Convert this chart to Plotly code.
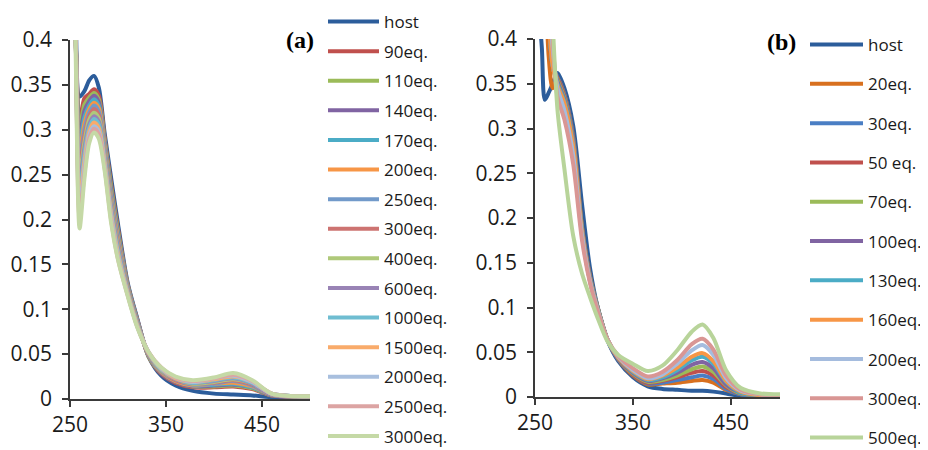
import plotly.graph_objects as go

# ---------------- Panel (a) data ----------------
WL_A = [250, 253, 256, 260, 265, 270, 275, 280, 286, 293, 300, 310, 320, 332, 345, 360, 378, 400, 420, 440, 460, 500]
LABELS_A = ["host", "90eq.", "110eq.", "140eq.", "170eq.", "200eq.", "250eq.", "300eq.", "400eq.",
            "600eq.", "1000eq.", "1500eq.", "2000eq.", "2500eq.", "3000eq."]
COLORS_A = ["#2C5D9B", "#C0504D", "#9BBB59", "#8064A2", "#4BACC6", "#F79646", "#729ACA", "#CD7371",
            "#AFC97A", "#9983B5", "#6FBDD1", "#F9AB6B", "#A8BFDE", "#DCA4A3", "#C5D9A6"]

A_HOST = [0.95, 0.6, 0.43, 0.337, 0.343, 0.355, 0.360, 0.347, 0.297, 0.245, 0.195, 0.130, 0.090, 0.047, 0.026, 0.015, 0.009, 0.006, 0.005, 0.004, 0.002, 0.001]
A_90 = [0.95, 0.6, 0.40, 0.310, 0.335, 0.340, 0.345, 0.338, 0.292, 0.238, 0.190, 0.128, 0.089, 0.047, 0.028, 0.018, 0.013, 0.013, 0.014, 0.011, 0.004, 0.003]
A_110 = [0.95, 0.6, 0.40, 0.301, 0.328, 0.336, 0.341, 0.334, 0.289, 0.235, 0.187, 0.127, 0.088, 0.047, 0.029, 0.019, 0.014, 0.014, 0.015, 0.012, 0.004, 0.003]
A_140 = [0.95, 0.6, 0.40, 0.292, 0.321, 0.332, 0.338, 0.331, 0.286, 0.231, 0.184, 0.126, 0.088, 0.048, 0.029, 0.019, 0.014, 0.015, 0.016, 0.013, 0.004, 0.003]
A_170 = [0.95, 0.6, 0.40, 0.283, 0.314, 0.327, 0.334, 0.327, 0.284, 0.228, 0.182, 0.125, 0.087, 0.048, 0.030, 0.020, 0.015, 0.016, 0.017, 0.013, 0.005, 0.003]
A_200 = [0.95, 0.6, 0.40, 0.274, 0.307, 0.323, 0.330, 0.324, 0.281, 0.225, 0.179, 0.124, 0.086, 0.049, 0.030, 0.020, 0.015, 0.017, 0.018, 0.014, 0.005, 0.003]
A_250 = [0.95, 0.6, 0.40, 0.265, 0.300, 0.319, 0.327, 0.320, 0.278, 0.222, 0.176, 0.123, 0.086, 0.049, 0.031, 0.021, 0.016, 0.017, 0.020, 0.015, 0.005, 0.003]
A_300 = [0.95, 0.6, 0.40, 0.256, 0.293, 0.315, 0.323, 0.316, 0.275, 0.218, 0.173, 0.122, 0.085, 0.049, 0.032, 0.021, 0.017, 0.018, 0.021, 0.016, 0.005, 0.003]
A_400 = [0.95, 0.6, 0.40, 0.247, 0.286, 0.311, 0.319, 0.313, 0.272, 0.215, 0.170, 0.121, 0.084, 0.050, 0.032, 0.022, 0.017, 0.019, 0.022, 0.017, 0.005, 0.003]
A_600 = [0.95, 0.6, 0.40, 0.238, 0.279, 0.306, 0.315, 0.309, 0.270, 0.212, 0.168, 0.120, 0.083, 0.050, 0.033, 0.022, 0.018, 0.020, 0.023, 0.017, 0.005, 0.003]
A_1000 = [0.95, 0.6, 0.40, 0.229, 0.272, 0.302, 0.312, 0.306, 0.267, 0.208, 0.165, 0.119, 0.083, 0.051, 0.033, 0.023, 0.018, 0.021, 0.024, 0.018, 0.006, 0.003]
A_1500 = [0.95, 0.6, 0.40, 0.220, 0.265, 0.298, 0.308, 0.302, 0.264, 0.205, 0.162, 0.118, 0.082, 0.051, 0.034, 0.023, 0.019, 0.022, 0.025, 0.019, 0.006, 0.003]
A_2000 = [0.95, 0.6, 0.40, 0.211, 0.258, 0.294, 0.304, 0.298, 0.261, 0.202, 0.159, 0.117, 0.081, 0.052, 0.034, 0.024, 0.019, 0.023, 0.026, 0.019, 0.006, 0.003]
A_2500 = [0.95, 0.6, 0.40, 0.202, 0.251, 0.290, 0.301, 0.295, 0.258, 0.198, 0.156, 0.116, 0.081, 0.052, 0.035, 0.024, 0.020, 0.023, 0.027, 0.020, 0.006, 0.003]
A_3000 = [0.95, 0.6, 0.38, 0.190, 0.245, 0.285, 0.297, 0.290, 0.255, 0.195, 0.155, 0.115, 0.080, 0.052, 0.035, 0.025, 0.021, 0.024, 0.029, 0.021, 0.006, 0.003]
SERIES_A = [A_HOST, A_90, A_110, A_140, A_170, A_200, A_250, A_300, A_400, A_600,
            A_1000, A_1500, A_2000, A_2500, A_3000]

# ---------------- Panel (b) data ----------------
WL_B = [250, 253, 257, 260, 264, 268, 273, 280, 289, 298, 306, 314, 324, 335, 350, 365, 380, 395, 410, 421, 432, 445, 460, 480, 500]
LABELS_B = ["host", "20eq.", "30eq.", "50 eq.", "70eq.", "100eq.", "130eq.", "160eq.", "200eq.", "300eq.", "500eq."]
COLORS_B = ["#2C5D9B", "#D8701F", "#4A7EC4", "#C0504D", "#9BBB59", "#8064A2", "#4BACC6", "#F79646",
            "#A5BCDE", "#D99694", "#B8D49A"]

B_HOST = [0.6, 0.45, 0.39, 0.332, 0.34, 0.35, 0.362, 0.345, 0.303, 0.215, 0.145, 0.100, 0.063, 0.040, 0.022, 0.012, 0.009, 0.008, 0.007, 0.007, 0.006, 0.004, 0.001, 0.0, 0.0]
B_20 = [0.9, 0.7, 0.55, 0.48, 0.38, 0.345, 0.356, 0.338, 0.290, 0.190, 0.136, 0.100, 0.064, 0.042, 0.024, 0.014, 0.015, 0.016, 0.018, 0.019, 0.016, 0.008, 0.003, 0.001, 0.001]
B_30 = [0.9, 0.72, 0.58, 0.50, 0.42, 0.37, 0.357, 0.338, 0.289, 0.189, 0.135, 0.100, 0.064, 0.042, 0.025, 0.015, 0.016, 0.019, 0.022, 0.024, 0.020, 0.009, 0.003, 0.001, 0.001]
B_50 = [0.9, 0.72, 0.58, 0.50, 0.42, 0.37, 0.356, 0.336, 0.287, 0.188, 0.134, 0.099, 0.064, 0.043, 0.025, 0.016, 0.018, 0.022, 0.027, 0.029, 0.024, 0.011, 0.004, 0.002, 0.001]
B_70 = [0.9, 0.72, 0.58, 0.50, 0.42, 0.37, 0.354, 0.334, 0.285, 0.187, 0.133, 0.099, 0.064, 0.043, 0.026, 0.017, 0.019, 0.024, 0.031, 0.034, 0.028, 0.013, 0.004, 0.002, 0.001]
B_100 = [0.9, 0.72, 0.58, 0.50, 0.42, 0.37, 0.352, 0.332, 0.284, 0.186, 0.132, 0.098, 0.064, 0.043, 0.027, 0.018, 0.021, 0.027, 0.036, 0.039, 0.032, 0.014, 0.005, 0.002, 0.001]
B_130 = [0.9, 0.72, 0.58, 0.50, 0.42, 0.37, 0.350, 0.330, 0.282, 0.185, 0.131, 0.098, 0.064, 0.044, 0.028, 0.019, 0.022, 0.030, 0.041, 0.045, 0.037, 0.017, 0.005, 0.002, 0.002]
B_160 = [0.9, 0.72, 0.58, 0.50, 0.42, 0.37, 0.348, 0.328, 0.280, 0.184, 0.130, 0.097, 0.064, 0.044, 0.029, 0.020, 0.024, 0.033, 0.045, 0.049, 0.040, 0.018, 0.006, 0.002, 0.002]
B_200 = [0.9, 0.75, 0.62, 0.55, 0.46, 0.39, 0.345, 0.320, 0.270, 0.180, 0.130, 0.097, 0.064, 0.045, 0.030, 0.021, 0.025, 0.037, 0.052, 0.058, 0.047, 0.021, 0.007, 0.003, 0.002]
B_300 = [0.9, 0.75, 0.62, 0.55, 0.47, 0.40, 0.335, 0.310, 0.260, 0.175, 0.128, 0.096, 0.064, 0.046, 0.032, 0.023, 0.028, 0.041, 0.059, 0.065, 0.053, 0.024, 0.008, 0.003, 0.002]
B_500 = [0.95, 0.85, 0.72, 0.62, 0.52, 0.42, 0.32, 0.255, 0.180, 0.138, 0.112, 0.088, 0.062, 0.047, 0.037, 0.029, 0.035, 0.052, 0.073, 0.081, 0.066, 0.030, 0.010, 0.004, 0.003]
SERIES_B = [B_HOST, B_20, B_30, B_50, B_70, B_100, B_130, B_160, B_200, B_300, B_500]

X_TICKS = [250, 350, 450]
Y_TICKS = [0, 0.05, 0.1, 0.15, 0.2, 0.25, 0.3, 0.35, 0.4]
Y_TICK_TEXT = ["0", "0.05", "0.1", "0.15", "0.2", "0.25", "0.3", "0.35", "0.4"]

FONT = "Open Sans"
W, H = 928, 450
OFF = 8  # the page body adds an 8px offset; layout below is in reference pixels minus this


def px_x(v):
    return (v - OFF) / W


def px_y(v):
    return 1 - (v - OFF) / H


fig = go.Figure()

for i, (lab, col, ys) in enumerate(zip(LABELS_A, COLORS_A, SERIES_A)):
    fig.add_trace(go.Scatter(
        x=WL_A, y=ys, name=lab, mode="lines",
        line=dict(color=col, width=4, shape="spline", smoothing=0.8),
        xaxis="x", yaxis="y", legend="legend", legendgroup="a%d" % i,
    ))

for i, (lab, col, ys) in enumerate(zip(LABELS_B, COLORS_B, SERIES_B)):
    fig.add_trace(go.Scatter(
        x=WL_B, y=ys, name=lab, mode="lines",
        line=dict(color=col, width=4, shape="spline", smoothing=0.8),
        xaxis="x2", yaxis="y2", legend="legend2", legendgroup="b%d" % i,
    ))

axis_common = dict(
    showline=True, linecolor="#3a3a3a", linewidth=1.5, ticks="outside", ticklen=6,
    tickcolor="#3a3a3a", tickwidth=1.5, showgrid=False, zeroline=False,
    tickfont=dict(family=FONT, size=21, color="#1a1a1a"),
)

fig.update_layout(
    width=W, height=H,
    margin=dict(l=0, r=0, t=0, b=0, pad=0, autoexpand=False),
    paper_bgcolor="white", plot_bgcolor="white",
    xaxis=dict(domain=[px_x(70), px_x(310)], range=[250, 500], tickvals=X_TICKS, anchor="y", **axis_common),
    yaxis=dict(domain=[px_y(399), px_y(40)], range=[0, 0.4], tickvals=Y_TICKS,
               ticktext=Y_TICK_TEXT, anchor="x", ticklabelstandoff=6, **axis_common),
    xaxis2=dict(domain=[px_x(535), px_x(780)], range=[250, 500], tickvals=X_TICKS, anchor="y2", **axis_common),
    yaxis2=dict(domain=[px_y(397), px_y(39)], range=[0, 0.4], tickvals=Y_TICKS,
                ticktext=Y_TICK_TEXT, anchor="x2", ticklabelstandoff=6, **axis_common),
    legend=dict(x=px_x(323), y=px_y(4), xanchor="left", yanchor="top",
                font=dict(family=FONT, size=17, color="#1a1a1a"),
                traceorder="grouped", tracegroupgap=4.5, bgcolor="rgba(0,0,0,0)",
                itemwidth=51, borderwidth=0, maxheight=1200),
    legend2=dict(x=px_x(805), y=px_y(27), xanchor="left", yanchor="top",
                 font=dict(family=FONT, size=17, color="#1a1a1a"),
                 traceorder="grouped", tracegroupgap=14.2, bgcolor="rgba(0,0,0,0)",
                 itemwidth=53, borderwidth=0, maxheight=1200),
    annotations=[
        dict(text="<b>(a)</b>", x=px_x(300), y=px_y(40), xref="paper", yref="paper",
             xanchor="center", yanchor="middle", showarrow=False,
             font=dict(family="Liberation Serif", size=24, color="black")),
        dict(text="<b>(b)</b>", x=px_x(781), y=px_y(42), xref="paper", yref="paper",
             xanchor="center", yanchor="middle", showarrow=False,
             font=dict(family="Liberation Serif", size=24, color="black")),
    ],
)

fig.write_html("out.html")
